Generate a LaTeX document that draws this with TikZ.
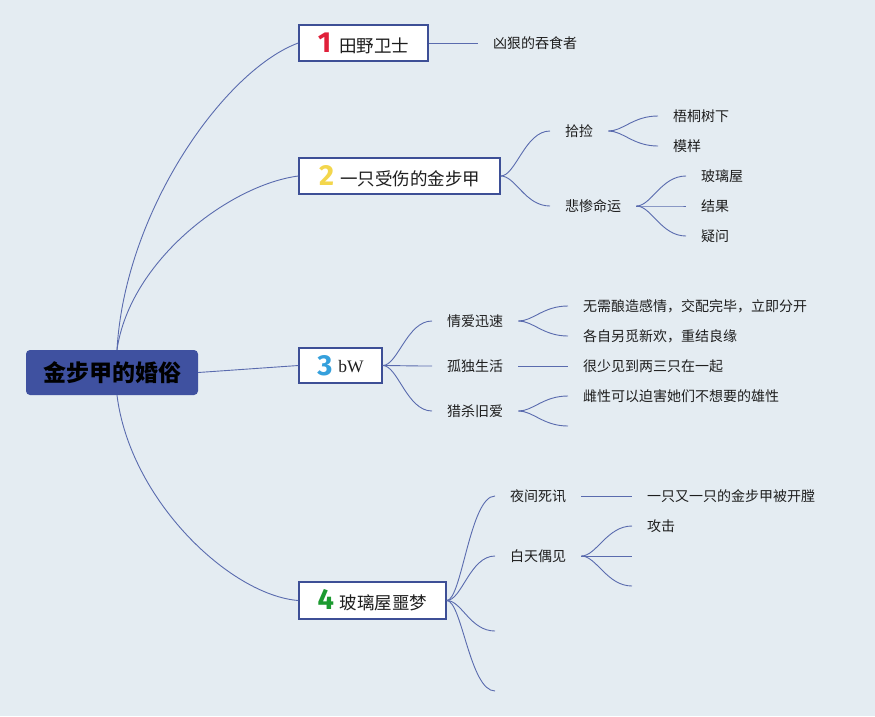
\documentclass[tikz,border=0pt]{standalone}
\usepackage{fontspec}
\setmainfont{Noto Sans CJK SC}
\newfontfamily\tnumfont{Fira Sans}
\newfontfamily\tserif{Liberation Serif}
\definecolor{bgc}{HTML}{E4ECF2}
\definecolor{linec}{HTML}{5A6BAE}
\definecolor{rootc}{HTML}{3F51A0}
\definecolor{borderc}{HTML}{3D4F96}
\definecolor{textc}{HTML}{1E1E1E}
\definecolor{nred}{HTML}{E0203A}
\definecolor{nyellow}{HTML}{F3D64C}
\definecolor{nblue}{HTML}{35A0DC}
\definecolor{ngreen}{HTML}{1C9A30}
\newcommand\tnum[2]{{\tnumfont\bfseries\fontsize{29}{29}\selectfont\color{#1}#2}}
\tikzset{
  rootbox/.style={fill=rootc, rounded corners=4pt, inner sep=0pt, text=black,
    minimum width=172pt, minimum height=45pt, font=\bfseries\fontsize{23}{26}\selectfont},
  topic/.style={draw=borderc, line width=1.5pt, fill=white, inner sep=0pt, text=textc,
    font=\fontsize{17.5}{20}\selectfont},
  leaf/.style={inner xsep=15pt, inner ysep=2pt, anchor=west, text=textc,
    font=\fontsize{14}{16}\selectfont},
  link/.style={draw=linec, line width=0.9pt},
}
\begin{document}
\begin{tikzpicture}[x=1pt,y=-1pt]
\fill[bgc] (0,0) rectangle (875,716);
\useasboundingbox (0,0) rectangle (875,716);

% root and topics
\node[rootbox] (root) at (112,372.5) {金步甲的婚俗};
\node[topic, minimum width=129pt, minimum height=36pt] (t1) at (363.5,43) {\tnum{nred}{1}\hspace{8pt}田野卫士};
\node[topic, minimum width=201pt, minimum height=36pt] (t2) at (399.5,176) {\tnum{nyellow}{2}\hspace{6pt}一只受伤的金步甲};
\node[topic, minimum width=83pt, minimum height=35pt] (t3) at (340.5,365.5) {\tnum{nblue}{3}\hspace{6pt}\raisebox{3pt}{\tserif bW}};
\node[topic, minimum width=147pt, minimum height=37pt] (t4) at (372.5,600.5) {\tnum{ngreen}{4}\hspace{6pt}玻璃屋噩梦};

\draw[link] ([xshift=5pt]root.north) .. controls (125,210) and (225,70) .. (t1.west);
\draw[link] ([xshift=5pt]root.north) .. controls (130,260) and (230,185) .. (t2.west);
\draw[link] (root.east) -- (t3.west);
\draw[link] ([xshift=5pt]root.south) .. controls (130,500) and (230,595) .. (t4.west);

% topic 1
\node[leaf] (a1) at (478,43) {凶狠的吞食者};
\draw[link] (t1.east) -- (a1.west);

% topic 2
\node[leaf] (b1) at (550,131) {拾捡};
\node[leaf] (b2) at (550,206) {悲惨命运};
\node[leaf] (c1) at (658,116) {梧桐树下};
\node[leaf] (c2) at (658,146) {模样};
\node[leaf] (c3) at (686,176) {玻璃屋};
\node[leaf] (c4) at (686,206) {结果};
\node[leaf] (c5) at (686,236) {疑问};
\foreach \b in {b1,b2} \draw[link] (t2.east) .. controls +(15,0) and +(-25,0) .. (\b.west);
\foreach \c in {c1,c2} \draw[link] (b1.east) .. controls +(15,0) and +(-25,0) .. (\c.west);
\foreach \c in {c3,c4,c5} \draw[link] (b2.east) .. controls +(15,0) and +(-25,0) .. (\c.west);

% topic 3
\node[leaf] (d1) at (432,321) {情爱迅速};
\node[leaf] (d2) at (432,366) {孤独生活};
\node[leaf] (d3) at (432,411) {猎杀旧爱};
\node[leaf] (e1) at (568,306) {无需酿造感情，交配完毕，立即分开};
\node[leaf] (e2) at (568,336) {各自另觅新欢，重结良缘};
\node[leaf] (e3) at (568,366) {很少见到两三只在一起};
\node[leaf] (e4) at (568,396) {雌性可以迫害她们不想要的雄性};
\coordinate (e5) at (568,426);
\foreach \d in {d1,d2,d3} \draw[link] (t3.east) .. controls +(15,0) and +(-25,0) .. (\d.west);
\foreach \e in {e1,e2} \draw[link] (d1.east) .. controls +(15,0) and +(-25,0) .. (\e.west);
\draw[link] (d2.east) -- (e3.west);
\draw[link] (d3.east) .. controls +(15,0) and +(-25,0) .. (e4.west);
\draw[link] (d3.east) .. controls +(15,0) and +(-25,0) .. (e5);

% topic 4
\node[leaf] (f1) at (495,496) {夜间死讯};
\node[leaf] (f2) at (495,556) {白天偶见};
\coordinate (f3) at (495,631);
\coordinate (f4) at (495,691);
\node[leaf] (g1) at (632,496) {一只又一只的金步甲被开膛};
\node[leaf] (g2) at (632,526) {攻击};
\coordinate (g3) at (632,556);
\coordinate (g4) at (632,586);
\foreach \f in {f1,f2} \draw[link] (t4.east) .. controls +(15,0) and +(-25,0) .. (\f.west);
\foreach \f in {f3,f4} \draw[link] (t4.east) .. controls +(15,0) and +(-25,0) .. (\f);
\draw[link] (f1.east) -- (g1.west);
\draw[link] (f2.east) .. controls +(15,0) and +(-25,0) .. (g2.west);
\foreach \g in {g3,g4} \draw[link] (f2.east) .. controls +(15,0) and +(-25,0) .. (\g);
\end{tikzpicture}
\end{document}
